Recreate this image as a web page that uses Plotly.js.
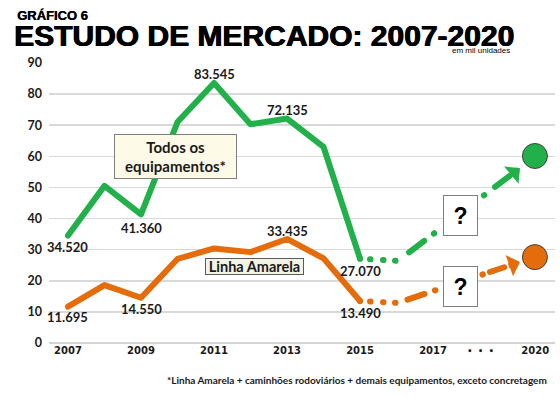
<!DOCTYPE html>
<html>
<head>
<meta charset="utf-8">
<script src="https://cdn.plot.ly/plotly-3.0.1.min.js"></script>
<style>
  html, body { margin: 0; padding: 0; background: #fff; }
  #chart { width: 560px; height: 397px; }
  path.js-line { stroke-linecap: round !important; stroke-linejoin: round !important; }
</style>
</head>
<body>
<div id="chart"></div>
<script>
// ---- data (mil unidades) ----
var years = [2007, 2008, 2009, 2010, 2011, 2012, 2013, 2014, 2015];
var xIndex = [0, 1, 2, 3, 4, 5, 6, 7, 8];
var todos = [34.52, 50.5, 41.36, 71.0, 83.545, 70.3, 72.135, 63.0, 27.07];
var linha = [11.695, 18.6, 14.55, 27.0, 30.4, 29.2, 33.435, 27.2, 13.49];

// labelled points (index into series) and label offsets
var todosLabelIdx = [0, 2, 4, 6, 8];
var todosLabelShift = [-11, -14, 9, 9, -12];
var linhaLabelIdx = [0, 2, 6, 8];
var linhaLabelShift = [-10, -11, 8, -12];

// projection to 2020 (unknown path, drawn dashed)
var projX = [8, 9.04, 12.38];
var projTodos = [27.07, 26.4, 56.25];
var projLinha = [13.49, 12.9, 26.04];
var arrowTailX = [12.1, 12.03];
var arrowTailY = [53.5, 24.6];
var futureX = [12.79];
var futureTodos = [60.1];
var futureLinha = [27.6];
var questionX = [10.74, 10.74];
var questionY = [40.9, 18.3];

// axis ticks
var tickVals = [0, 2, 4, 6, 8, 10, 11.3, 12.8];
var tickText = ['2007', '2009', '2011', '2013', '2015', '2017', '<span style="font-size:8px">•  •  •</span>', '2020'];

var GREEN = '#22b04b';
var ORANGE = '#e46c0a';
var TXT = '#1a1a1a';

// page geometry helpers (paper coords from pixel position)
var W = 560, H = 397, M = {l: 49, r: 5, t: 62, b: 54};
function px(x) { return (x - M.l) / (W - M.l - M.r); }
function py(y) { return (H - M.b - y) / (H - M.t - M.b); }

var traces = [
  {x: xIndex, y: todos, mode: 'lines', line: {color: GREEN, width: 6}},
  {x: xIndex, y: linha, mode: 'lines', line: {color: ORANGE, width: 6}},
  {x: projX, y: projTodos, mode: 'lines',
   line: {color: GREEN, width: 6,
          dash: '0px,10px,0.5px,12.5px,0.5px,11.5px,0.5px,16.5px,19px,12px,0.5px,62.5px,0.5px,13.5px,18px,200px'}},
  {x: projX, y: projLinha, mode: 'lines',
   line: {color: ORANGE, width: 6,
          dash: '0px,10px,0.5px,12.5px,0.5px,11.5px,0.5px,12.5px,18px,11px,0.5px,49.5px,0.5px,7.5px,15px,200px'}},
  {x: futureX, y: futureTodos, mode: 'markers',
   marker: {size: 25, color: GREEN, line: {color: '#404040', width: 1}}},
  {x: futureX, y: futureLinha, mode: 'markers',
   marker: {size: 25, color: ORANGE, line: {color: '#404040', width: 1}}}
];

var labelFont = {family: 'Lato, sans-serif', size: 13, color: TXT, weight: 'bold'};
var annotations = [];
todosLabelIdx.forEach(function (i, k) {
  annotations.push({x: xIndex[i], y: todos[i], xref: 'x', yref: 'y', text: todos[i].toFixed(3),
    showarrow: false, yshift: todosLabelShift[k], font: labelFont});
});
linhaLabelIdx.forEach(function (i, k) {
  annotations.push({x: xIndex[i], y: linha[i], xref: 'x', yref: 'y', text: linha[i].toFixed(3),
    showarrow: false, yshift: linhaLabelShift[k], font: labelFont});
});
// arrows
annotations.push({x: projX[2], y: projTodos[2], ax: arrowTailX[0], ay: arrowTailY[0], xref: 'x', yref: 'y',
  axref: 'x', ayref: 'y', text: '', showarrow: true, arrowhead: 1, arrowsize: 0.75, arrowwidth: 5, arrowcolor: GREEN});
annotations.push({x: projX[2], y: projLinha[2], ax: arrowTailX[1], ay: arrowTailY[1], xref: 'x', yref: 'y',
  axref: 'x', ayref: 'y', text: '', showarrow: true, arrowhead: 1, arrowsize: 0.75, arrowwidth: 5, arrowcolor: ORANGE});
// question boxes
for (var q = 0; q < 2; q++) {
  annotations.push({x: questionX[q], y: questionY[q], xref: 'x', yref: 'y', text: '?', showarrow: false,
    width: 33, height: 39, borderpad: 0, bgcolor: '#ffffff', bordercolor: '#7f7f7f', borderwidth: 1,
    font: {family: 'Liberation Sans, Arial, sans-serif', size: 23, color: '#000', weight: 'bold'}});
}
// series name boxes
annotations.push({x: 2.945, y: 59.9, xref: 'x', yref: 'y', text: 'Todos os<br>equipamentos*', showarrow: false,
  width: 121, height: 43, borderpad: 0, bgcolor: '#fdfbe7', bordercolor: '#7f7f7f', borderwidth: 1,
  font: {family: 'Lato, sans-serif', size: 15, color: TXT, weight: 'bold'}});
annotations.push({x: 5.11, y: 24.6, xref: 'x', yref: 'y', text: 'Linha Amarela', showarrow: false,
  width: 97, height: 15, borderpad: 0, bgcolor: '#f3f3e6', bordercolor: '#595959', borderwidth: 1,
  font: {family: 'Lato, sans-serif', size: 14.5, color: TXT, weight: 'bold'}});
// header texts
annotations.push({x: px(15), y: py(15.5), xref: 'paper', yref: 'paper', xanchor: 'left', yanchor: 'middle',
  text: 'GRÁFICO 6', showarrow: false,
  font: {family: 'Liberation Sans, Arial, sans-serif', size: 13, color: '#000', weight: 'bold',
         shadow: '0.4px 0 0 #000'}});
annotations.push({x: px(512), y: py(50.5), xref: 'paper', yref: 'paper', xanchor: 'right', yanchor: 'middle',
  text: 'em mil unidades', showarrow: false,
  font: {family: 'Liberation Sans, Arial, sans-serif', size: 8, color: '#000'}});
annotations.push({x: px(549), y: py(380), xref: 'paper', yref: 'paper', xanchor: 'right', yanchor: 'middle',
  text: '*Linha Amarela + caminhões rodoviários + demais equipamentos, exceto concretagem', showarrow: false,
  font: {family: 'Lato, sans-serif', size: 10, color: TXT, weight: 'bold'}});

var layout = {
  width: W, height: H,
  margin: M,
  paper_bgcolor: '#ffffff', plot_bgcolor: '#ffffff',
  showlegend: false,
  hovermode: false,
  title: {text: 'ESTUDO DE MERCADO: 2007-2020', x: 14 / W, xanchor: 'left', xref: 'container',
          y: 1 - 35 / H, yanchor: 'middle', yref: 'container',
          font: {family: 'Liberation Sans, Arial, sans-serif', size: 30, color: '#000', weight: 'bold',
                 shadow: '0.7px 0 0 #000, -0.3px 0 0 #000'}},
  xaxis: {range: [-0.52, 13.34], showgrid: false, zeroline: false, showline: false,
          tickmode: 'array', tickvals: tickVals, ticktext: tickText, ticks: '',
          tickfont: {family: 'DejaVu Sans, sans-serif', size: 10, color: TXT, weight: 'bold'},
          fixedrange: true},
  yaxis: {range: [0, 90.3], dtick: 10, tick0: 0, showgrid: true, gridcolor: '#d9d9d9', gridwidth: 1.5,
          zeroline: true, zerolinecolor: '#d4d4d4', zerolinewidth: 2, showline: false, ticks: '',
          ticklabelstandoff: 6,
          tickfont: {family: 'Lato, sans-serif', size: 12.5, color: TXT, weight: 'bold'},
          fixedrange: true},
  annotations: annotations
};

Plotly.newPlot('chart', traces, layout, {displayModeBar: false, staticPlot: true});
</script>
</body>
</html>
